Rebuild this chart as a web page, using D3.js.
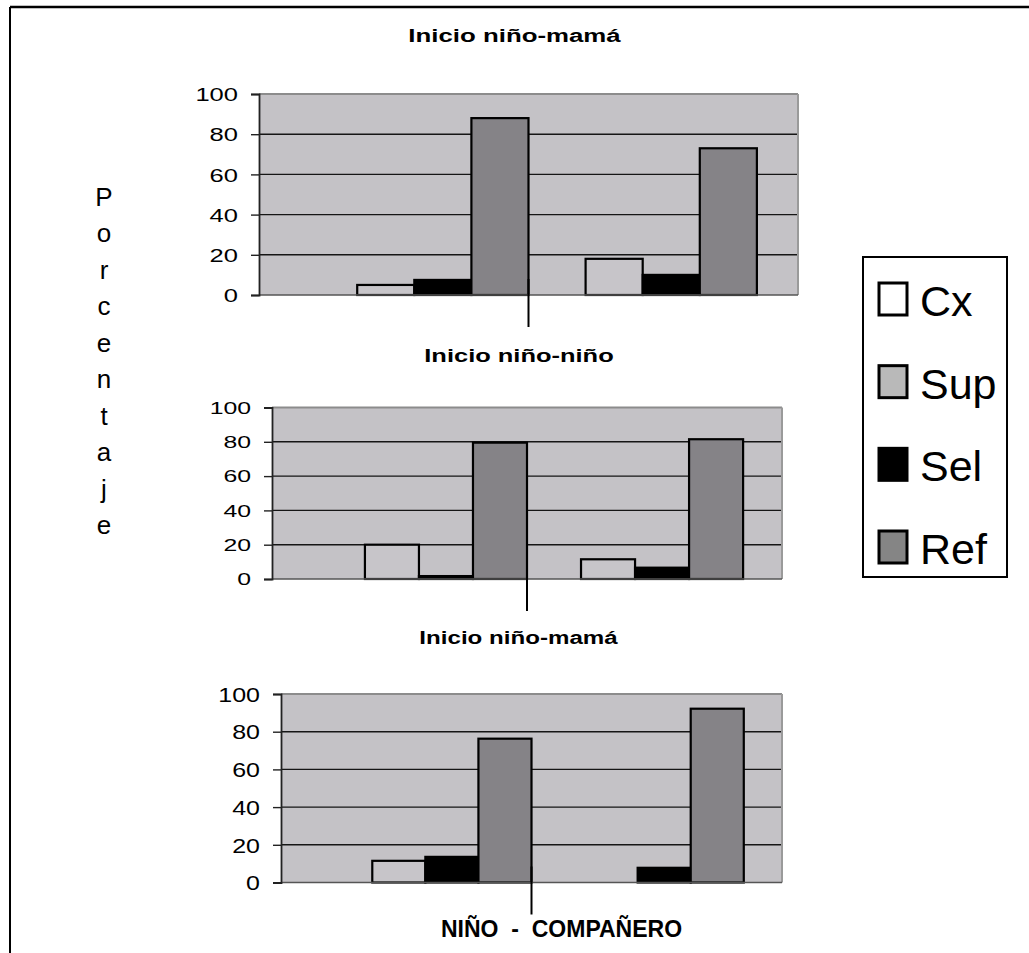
<!DOCTYPE html>
<html>
<head>
<meta charset="utf-8">
<script src="https://cdn.jsdelivr.net/npm/d3@7"></script>
<style>
  html, body { margin: 0; padding: 0; background: #ffffff; }
  svg { display: block; }
  text { font-family: "Liberation Sans", Arial, Helvetica, sans-serif; fill: #000; }
</style>
</head>
<body>
<svg id="chart" width="1029" height="953"></svg>
<script>
// ---------------- DATA ----------------
const groups = ["Grupo 1", "Grupo 2"];
const series = ["Cx", "Sup", "Sel", "Ref"];
const yTicks = [0, 20, 40, 60, 80, 100];
const panelTitles = ["Inicio niño-mamá", "Inicio niño-niño", "Inicio niño-mamá"];
const bottomLabel = "NIÑO  -  COMPAÑERO";
const yAxisTitle = "Porcentaje";

// Panel 1 (top) values per series, one entry per group
const p1Cx  = [0, 0];
const p1Sup = [5, 18];
const p1Sel = [7.5, 10];
const p1Ref = [88, 73];
// Panel 2 (middle)
const p2Cx  = [0, 0];
const p2Sup = [20, 11.5];
const p2Sel = [1.7, 6.6];
const p2Ref = [79.5, 81.5];
// Panel 3 (bottom)
const p3Cx  = [0, 0];
const p3Sup = [11.5, 0];
const p3Sel = [13.6, 7.8];
const p3Ref = [76.3, 92.2];

const panelValues = [
  {Cx: p1Cx, Sup: p1Sup, Sel: p1Sel, Ref: p1Ref},
  {Cx: p2Cx, Sup: p2Sup, Sel: p2Sel, Ref: p2Ref},
  {Cx: p3Cx, Sup: p3Sup, Sel: p3Sel, Ref: p3Ref}
];

// ---------------- STYLE / LAYOUT ----------------
const colors = {Cx: "#ffffff", Sup: "#c7c5c9", Sel: "#000000", Ref: "#858387"};
const legendColors = {Cx: "#ffffff", Sup: "#b9b9b9", Sel: "#000000", Ref: "#858585"};
const plotBg = "#c4c2c6";

const layouts = [
  {x0: 259, x1: 798, yTop: 94,    yBase: 295,   fs: 18.5, sx: 1.38, titleX: 514.5, titleY: 42,  titleFs: 19, titleSx: 1.36},
  {x0: 272, x1: 782, yTop: 407.5, yBase: 579,   fs: 16,   sx: 1.55, titleX: 519,   titleY: 362, titleFs: 19, titleSx: 1.34},
  {x0: 281, x1: 782, yTop: 694,   yBase: 882.5, fs: 20,   sx: 1.25, titleX: 518.5, titleY: 644, titleFs: 19, titleSx: 1.27}
];

const svg = d3.select("#chart");

// outer frame (top and left borders)
svg.append("line").attr("x1", 10).attr("y1", 7).attr("x2", 1029).attr("y2", 7)
  .attr("stroke", "#000").attr("stroke-width", 2.5);
svg.append("line").attr("x1", 10).attr("y1", 7).attr("x2", 10).attr("y2", 953)
  .attr("stroke", "#000").attr("stroke-width", 2);

layouts.forEach((L, pi) => {
  const vals = panelValues[pi];
  const g = svg.append("g");

  const x = d3.scaleBand().domain(groups).range([L.x0, L.x1]).paddingInner(0).paddingOuter(0.18);
  const xs = d3.scaleBand().domain(series).range([0, x.bandwidth()]).padding(0);
  const y = d3.scaleLinear().domain([0, 100]).range([L.yBase, L.yTop]);

  // plot background
  g.append("rect").attr("x", L.x0).attr("y", y(100))
    .attr("width", L.x1 - L.x0).attr("height", y(0) - y(100))
    .attr("fill", plotBg);

  // grid lines
  g.selectAll("line.grid").data(yTicks.filter(t => t > 0)).enter().append("line")
    .attr("class", "grid")
    .attr("x1", L.x0).attr("x2", L.x1)
    .attr("y1", d => y(d)).attr("y2", d => y(d))
    .attr("stroke", d => d === 100 ? "#8c8c8c" : "#151515")
    .attr("stroke-width", d => d === 100 ? 2 : 1.4);

  // right border
  g.append("line").attr("x1", L.x1).attr("x2", L.x1).attr("y1", y(100)).attr("y2", y(0))
    .attr("stroke", "#9a9a9a").attr("stroke-width", 2);

  // bars
  const rows = [];
  groups.forEach((grp, gi) => series.forEach(s => rows.push({grp, s, v: vals[s][gi]})));
  g.selectAll("rect.bar").data(rows.filter(d => d.v > 0)).enter().append("rect")
    .attr("class", "bar")
    .attr("x", d => x(d.grp) + xs(d.s))
    .attr("y", d => y(d.v))
    .attr("width", xs.bandwidth())
    .attr("height", d => y(0) - y(d.v))
    .attr("fill", d => colors[d.s])
    .attr("stroke", "#000")
    .attr("stroke-width", 2.2);

  // baseline
  g.append("line").attr("x1", L.x0).attr("x2", L.x1).attr("y1", y(0)).attr("y2", y(0))
    .attr("stroke", "#555").attr("stroke-width", 1.6);

  // category divider tick
  const divX = x(groups[1]);
  g.append("line").attr("x1", divX).attr("x2", divX)
    .attr("y1", y(0) - 16).attr("y2", y(0) + 32)
    .attr("stroke", "#000").attr("stroke-width", 2);

  // y axis
  const axis = d3.axisLeft(y).tickValues(yTicks).tickSize(8).tickPadding(0).tickFormat(d3.format("d"));
  const ag = g.append("g").attr("transform", `translate(${L.x0},0)`).call(axis);
  ag.select(".domain").attr("stroke", "#222").attr("stroke-width", 1.8);
  ag.selectAll(".tick line").attr("stroke", "#222").attr("stroke-width", 1.4);
  ag.selectAll(".tick text")
    .attr("x", null).attr("dy", null)
    .attr("font-size", L.fs)
    .attr("font-family", "'Liberation Sans', Arial, sans-serif")
    .attr("fill", "#000")
    .attr("text-anchor", "end")
    .attr("transform", `translate(-21, ${L.fs * 0.36}) scale(${L.sx},1)`);

  // panel title
  g.append("text")
    .attr("text-anchor", "middle")
    .attr("font-weight", "bold")
    .attr("font-size", L.titleFs)
    .attr("transform", `translate(${L.titleX},${L.titleY}) scale(${L.titleSx},1)`)
    .text(panelTitles[pi]);
});

// bottom category label
svg.append("text")
  .attr("x", 441).attr("y", 937)
  .attr("font-weight", "bold")
  .attr("font-size", 23)
  .style("white-space", "pre")
  .text(bottomLabel);

// vertical y-axis title, one letter per line
const letters = yAxisTitle.split("");
const ly = d3.scaleLinear().domain([0, letters.length - 1]).range([206, 534]);
svg.append("g").selectAll("text").data(letters).enter().append("text")
  .attr("x", 104).attr("y", (d, i) => ly(i))
  .attr("text-anchor", "middle")
  .attr("font-size", 26)
  .text(d => d);

// legend
const lg = svg.append("g");
lg.append("rect").attr("x", 863).attr("y", 257).attr("width", 144).attr("height", 320)
  .attr("fill", "#fff").attr("stroke", "#000").attr("stroke-width", 2);
const ls = d3.scalePoint().domain(series).range([299, 547]);
const items = lg.selectAll("g.item").data(series).enter().append("g").attr("class", "item")
  .attr("transform", d => `translate(0,${ls(d)})`);
items.append("rect").attr("x", 879).attr("y", -16).attr("width", 28).attr("height", 32)
  .attr("fill", d => legendColors[d]).attr("stroke", "#000").attr("stroke-width", 3);
items.append("text").attr("x", 920).attr("y", 17)
  .attr("font-size", 43)
  .text(d => d);
</script>
</body>
</html>
